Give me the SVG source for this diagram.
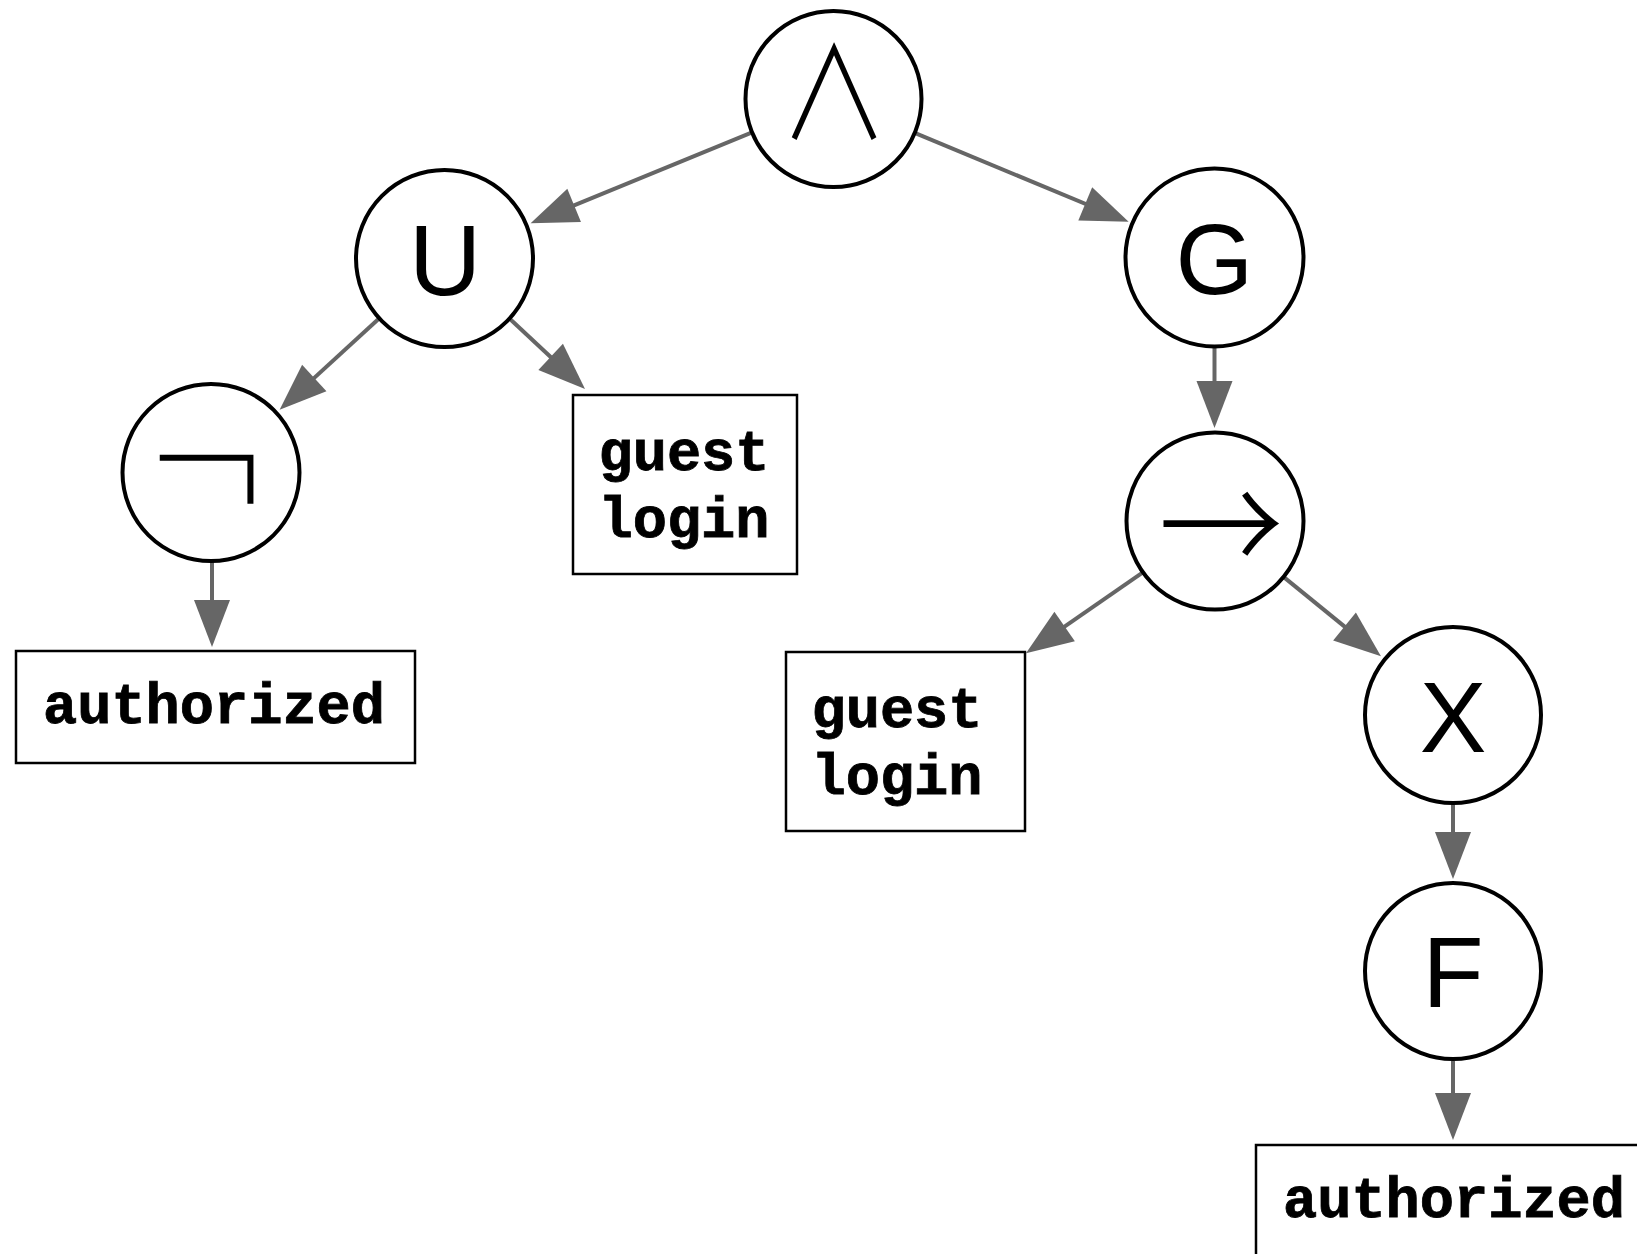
<svg xmlns="http://www.w3.org/2000/svg" width="1637" height="1254" viewBox="0 0 1637 1254">
  <style>
    .node circle { fill: #fff; stroke: #000; stroke-width: 4; }
    .box rect { fill: #fff; stroke: #000; stroke-width: 2.5; }
    .lbl { font-family: "Liberation Sans", Arial, sans-serif; font-size: 100px; fill: #000; text-anchor: middle; }
    .sym { font-family: "Noto Sans CJK JP", sans-serif; font-weight: 300; fill: #000; text-anchor: middle; }
    .neg { font-family: Inter, "Noto Sans CJK JP", sans-serif; font-weight: 100; fill: #000; text-anchor: middle; }
    .mono { font-family: "Liberation Mono", "Courier New", monospace; font-weight: bold; font-size: 57px; fill: #000; stroke: #000; stroke-width: 0.8; text-anchor: middle; }
    .edge { stroke: #666; stroke-width: 4; fill: none; marker-end: url(#ah); }
  </style>
  <defs>
    <marker id="ah" markerUnits="userSpaceOnUse" markerWidth="47" markerHeight="36" refX="37" refY="18" orient="auto" overflow="visible">
      <path d="M0,0 L47,18 L0,36 z" fill="#666"/>
    </marker>
  </defs>
  <rect width="1637" height="1254" fill="#fff"/>

  <!-- connectors -->
  <g id="edges">
    <line class="edge" x1="752.1" y1="132.4" x2="539.9" y2="219.4"/>
    <line class="edge" x1="914.7" y1="132.8" x2="1119.4" y2="218.0"/>
    <line class="edge" x1="379.6" y1="318.0" x2="287.0" y2="402.9"/>
    <line class="edge" x1="510" y1="319" x2="577.7" y2="382.2"/>
    <line class="edge" x1="212" y1="560" x2="212" y2="637"/>
    <line class="edge" x1="1214.5" y1="347" x2="1214.5" y2="418"/>
    <line class="edge" x1="1142.5" y1="572.7" x2="1034.2" y2="647.6"/>
    <line class="edge" x1="1283.2" y1="576.6" x2="1373.2" y2="649.9"/>
    <line class="edge" x1="1453" y1="804" x2="1453" y2="869"/>
    <line class="edge" x1="1453" y1="1061" x2="1453" y2="1130"/>
  </g>

  <!-- operator nodes -->
  <g id="n-and" class="node">
    <circle cx="833.5" cy="99" r="88"/>
    <text class="sym" transform="translate(834,138.5) scale(0.87,1)" font-size="126">∧</text>
  </g>
  <g id="n-until" class="node">
    <circle cx="444.5" cy="258.5" r="88.5"/>
    <text class="lbl" x="445" y="295">U</text>
  </g>
  <g id="n-globally" class="node">
    <circle cx="1214.5" cy="257.5" r="89"/>
    <text class="lbl" x="1214.5" y="294">G</text>
  </g>
  <g id="n-not" class="node">
    <circle cx="211" cy="472.5" r="88.5"/>
    <text class="neg" x="210" y="545" font-size="268">¬</text>
  </g>
  <g id="n-implies" class="node">
    <circle cx="1215" cy="521" r="88.5"/>
    <text class="sym" transform="translate(1221,523) scale(1,1.1)" y="48" font-size="125">→</text>
  </g>
  <g id="n-next" class="node">
    <circle cx="1453" cy="715" r="88"/>
    <text class="lbl" x="1453" y="751.5">X</text>
  </g>
  <g id="n-finally" class="node">
    <circle cx="1453" cy="971" r="88"/>
    <text class="lbl" x="1453" y="1006.5">F</text>
  </g>

  <!-- proposition boxes -->
  <g id="p-guest1" class="box">
    <rect x="573" y="395" width="224" height="179"/>
    <text class="mono" x="684" y="470">guest</text>
    <text class="mono" x="684" y="537">login</text>
  </g>
  <g id="p-auth1" class="box">
    <rect x="16" y="651" width="399" height="112"/>
    <text class="mono" x="214" y="723">authorized</text>
  </g>
  <g id="p-guest2" class="box">
    <rect x="786" y="652" width="239" height="179"/>
    <text class="mono" x="897" y="727">guest</text>
    <text class="mono" x="897" y="794">login</text>
  </g>
  <g id="p-auth2" class="box">
    <rect x="1256" y="1145" width="400" height="112"/>
    <text class="mono" x="1454" y="1217">authorized</text>
  </g>
</svg>
